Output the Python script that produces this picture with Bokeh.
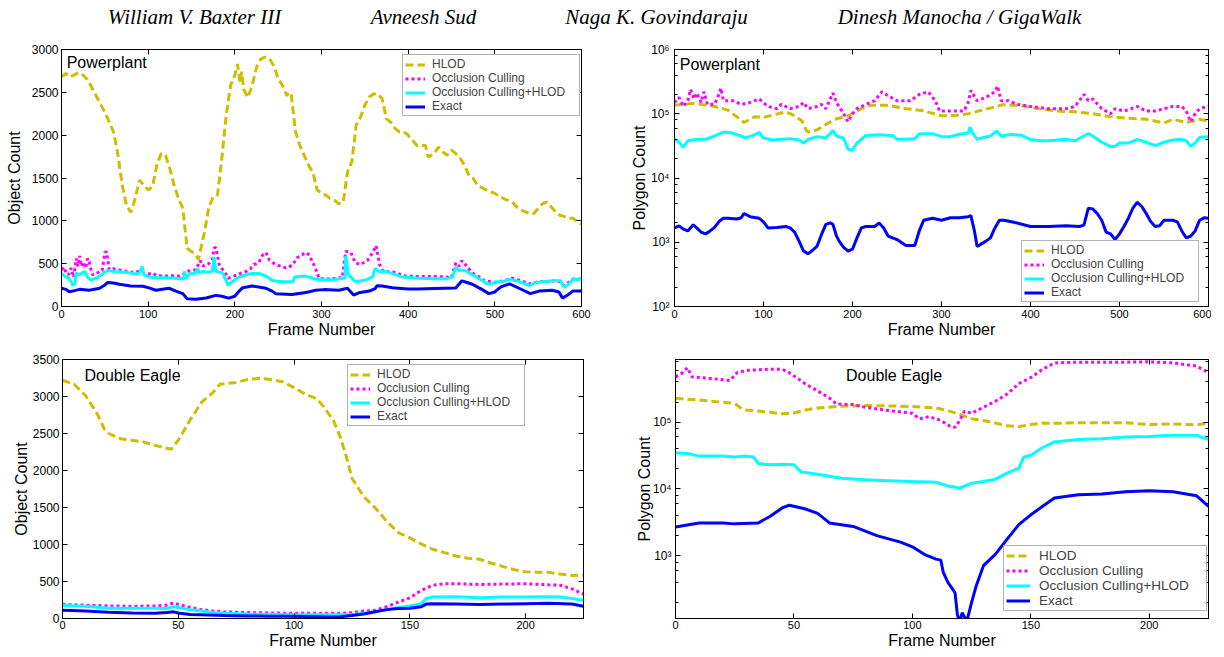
from bokeh.plotting import figure
from bokeh.models import (Label, LinearAxis, LogAxis, FixedTicker, LogTicker,
                          CustomJSTickFormatter, Range1d, Spacer)
from bokeh.layouts import column, row
from bokeh.embed import file_html
from bokeh.resources import INLINE
from bokeh.core.properties import value

# ---------------- data ----------------
AUTHORS = ["William V. Baxter III", "Avneesh Sud", "Naga K. Govindaraju",
           "Dinesh Manocha / GigaWalk"]
SERIES = ["HLOD", "Occlusion Culling", "Occlusion Culling+HLOD", "Exact"]
PP_XTICKS = [0, 100, 200, 300, 400, 500, 600]
DE_XTICKS = [0, 50, 100, 150, 200]
PP_OBJ_YTICKS = [0, 500, 1000, 1500, 2000, 2500, 3000]
DE_OBJ_YTICKS = [0, 500, 1000, 1500, 2000, 2500, 3000, 3500]

# Powerplant - object count
PP_OBJ_HLOD = [(0,2680),(5,2720),(10,2680),(20,2730),(25,2700),(30,2650),(40,2460),(50,2270),
    (60,2040),(65,1780),(70,1420),(75,1180),(80,1100),(85,1260),(90,1475),(95,1415),(100,1360),
    (105,1400),(110,1650),(115,1785),(120,1765),(125,1610),(130,1415),(135,1260),(140,1145),
    (145,680),(150,640),(155,600),(158,550),(160,640),(165,870),(170,1160),(175,1280),(180,1300),
    (185,1730),(190,2230),(195,2580),(200,2700),(203,2830),(206,2620),(208,2740),(210,2540),
    (215,2440),(220,2580),(225,2790),(230,2890),(235,2910),(240,2890),(245,2810),(250,2660),
    (255,2580),(260,2460),(262,2500),(265,2480),(270,2040),(275,1880),(280,1765),(285,1650),
    (290,1570),(295,1360),(300,1320),(305,1300),(310,1260),(315,1240),(320,1200),(325,1215),
    (330,1570),(335,1690),(340,2115),(345,2210),(350,2350),(355,2445),(360,2480),(365,2480),
    (370,2425),(375,2190),(380,2150),(385,2075),(390,2040),(395,2040),(400,2000),(405,1940),
    (410,1880),(415,1880),(420,1880),(423,1745),(430,1785),(435,1860),(440,1805),(445,1765),
    (450,1825),(455,1785),(460,1730),(465,1650),(470,1530),(475,1495),(480,1415),(490,1360),
    (500,1320),(510,1260),(520,1220),(525,1165),(530,1125),(540,1085),(545,1085),(550,1145),
    (555,1200),(560,1220),(565,1165),(570,1105),(575,1065),(580,1050),(585,1030),(590,1030),
    (595,990),(600,960)]
PP_OBJ_OCC = [(0,430),(3,460),(5,400),(8,370),(11,450),(14,340),(17,560),(19,470),(21,590),
    (23,470),(25,520),(28,450),(30,560),(32,520),(34,430),(36,370),(40,380),(44,410),(47,420),
    (50,630),(52,640),(55,430),(60,440),(70,420),(80,400),(90,410),(95,390),(100,380),(105,390),
    (110,360),(120,355),(130,360),(136,355),(140,370),(144,410),(150,420),(155,430),(160,535),
    (163,470),(166,490),(170,500),(174,540),(176,680),(178,690),(182,490),(186,430),(188,410),
    (192,330),(197,345),(205,380),(213,410),(218,440),(222,490),(225,500),(228,520),(232,600),
    (236,630),(240,540),(244,510),(250,480),(259,450),(264,470),(267,490),(272,570),(277,600),
    (282,630),(286,600),(290,510),(293,450),(295,390),(297,330),(303,320),(310,320),(318,330),
    (324,335),(328,645),(334,630),(339,510),(345,490),(350,520),(353,535),(359,630),(363,710),
    (367,490),(371,410),(382,405),(397,355),(412,350),(430,350),(443,345),(450,340),(455,510),
    (459,470),(462,535),(466,490),(474,390),(480,360),(486,310),(490,300),(500,280),(510,300),
    (520,330),(530,300),(540,265),(550,290),(560,290),(570,300),(575,290),(580,240),(585,280),
    (590,320),(600,320)]
PP_OBJ_OCCH = [(0,380),(2,370),(5,345),(9,330),(13,250),(15,260),(17,390),(21,370),(25,400),
    (27,410),(30,340),(34,310),(40,330),(44,355),(50,400),(53,420),(60,410),(74,400),(86,380),
    (90,390),(93,470),(95,370),(101,345),(110,335),(120,335),(132,330),(141,320),(142,410),
    (144,330),(148,380),(155,390),(157,445),(159,390),(163,410),(170,400),(174,410),(176,580),
    (178,410),(182,400),(186,390),(190,300),(192,250),(197,290),(205,345),(213,370),(220,385),
    (228,385),(236,355),(244,300),(255,290),(267,290),(269,345),(282,355),(293,320),(303,310),
    (315,315),(324,330),(327,330),(328,590),(331,370),(339,290),(351,310),(359,345),(362,445),
    (366,410),(374,410),(393,345),(412,330),(430,325),(443,320),(451,345),(455,460),(458,420),
    (462,425),(468,410),(474,370),(486,300),(490,270),(495,260),(501,290),(510,290),(517,320),
    (528,290),(540,245),(547,280),(556,290),(567,300),(576,300),(580,220),(586,270),(590,315),
    (600,315)]
PP_OBJ_EXACT = [(0,213),(5,200),(9,173),(15,185),(21,200),(32,190),(44,213),(50,250),(53,280),
    (60,275),(67,260),(80,240),(94,236),(100,220),(109,190),(124,213),(132,180),(140,150),
    (145,90),(155,85),(167,100),(178,130),(185,120),(193,98),(200,120),(205,180),(209,220),
    (220,240),(236,213),(243,180),(247,150),(266,140),(280,160),(286,173),(293,190),(303,197),
    (320,190),(330,213),(337,134),(343,160),(355,180),(362,210),(364,243),(370,240),(382,220),
    (400,205),(412,205),(430,210),(443,213),(455,215),(462,300),(468,280),(474,260),(485,200),
    (493,150),(500,170),(507,230),(517,265),(528,213),(541,150),(551,180),(566,190),(574,170),
    (578,98),(584,134),(590,180),(600,180)]

# Powerplant - polygon count
PP_POLY_HLOD = [(0,1.36e5),(10,1.4e5),(20,1.45e5),(30,1.4e5),(40,1.33e5),(50,1.25e5),
    (60,1.14e5),(65,1.0e5),(70,9.0e4),(78,7.3e4),(85,8.2e4),(90,9.0e4),(100,8.8e4),(110,9.5e4),
    (125,1.07e5),(135,9.3e4),(142,8.0e4),(145,7.1e4),(148,5.5e4),(150,5.2e4),(160,5.6e4),
    (170,6.8e4),(180,8.2e4),(195,9.3e4),(210,1.2e5),(220,1.36e5),(240,1.36e5),(260,1.2e5),
    (280,1.11e5),(300,9.3e4),(320,9.5e4),(330,1.0e5),(350,1.18e5),(370,1.39e5),(390,1.33e5),
    (410,1.2e5),(430,1.1e5),(450,1.07e5),(470,1.0e5),(490,9.0e4),(510,8.5e4),(530,8.2e4),
    (550,7.2e4),(560,8.2e4),(575,7.3e4),(590,8.2e4),(600,7.7e4)]
PP_POLY_OCC = [(0,1.5e5),(5,1.8e5),(10,1.3e5),(15,1.6e5),(18,2.4e5),(22,1.7e5),(25,2.1e5),
    (30,1.5e5),(33,2.2e5),(37,1.4e5),(45,1.4e5),(50,2.0e5),(52,2.5e5),(55,1.6e5),(65,1.6e5),
    (75,1.4e5),(85,1.5e5),(95,1.7e5),(105,1.3e5),(115,1.2e5),(120,1.4e5),(130,1.2e5),
    (140,1.3e5),(145,1.5e5),(150,1.2e5),(160,1.3e5),(165,1.4e5),(170,1.2e5),(178,2.1e5),
    (182,1.5e5),(190,1.0e5),(195,7.5e4),(200,1.0e5),(205,1.2e5),(215,1.4e5),(225,1.6e5),
    (233,2.2e5),(240,1.9e5),(250,1.6e5),(265,1.6e5),(275,2.0e5),(285,2.2e5),(293,1.6e5),
    (298,1.1e5),(310,1.1e5),(325,1.1e5),(330,1.5e5),(333,2.3e5),(340,1.6e5),(350,1.8e5),
    (360,2.2e5),(363,2.7e5),(367,1.6e5),(375,1.6e5),(385,1.4e5),(400,1.3e5),(420,1.2e5),
    (440,1.2e5),(450,1.3e5),(460,2.0e5),(465,1.6e5),(470,1.7e5),(480,1.2e5),(490,1.0e5),
    (495,1.2e5),(505,1.1e5),(520,1.3e5),(530,1.1e5),(540,1.1e5),(550,1.2e5),(560,1.3e5),
    (570,1.3e5),(575,1.1e5),(580,7.5e4),(585,1.0e5),(590,1.2e5),(600,1.3e5)]
PP_POLY_OCCH = [(0,4.0e4),(5,3.6e4),(10,3.0e4),(15,3.8e4),(25,4.0e4),(35,4.0e4),(45,4.5e4),
    (55,5.2e4),(65,5.0e4),(75,4.5e4),(80,4.2e4),(90,4.7e4),(95,5.1e4),(100,4.2e4),(110,3.9e4),
    (120,4.0e4),(130,4.1e4),(140,3.9e4),(145,3.5e4),(150,4.0e4),(160,4.4e4),(170,4.2e4),
    (178,5.5e4),(182,4.5e4),(190,4.2e4),(195,2.8e4),(200,2.7e4),(205,3.5e4),(210,4.0e4),
    (215,4.6e4),(230,4.7e4),(245,4.6e4),(250,4.0e4),(260,4.0e4),(270,4.1e4),(275,4.9e4),
    (290,4.9e4),(300,4.4e4),(310,4.4e4),(320,4.8e4),(330,5.0e4),(332,6.2e4),(335,5.0e4),
    (340,4.0e4),(345,4.2e4),(355,4.5e4),(362,5.4e4),(367,4.5e4),(380,4.8e4),(390,4.6e4),
    (400,4.0e4),(410,3.8e4),(420,3.8e4),(440,4.0e4),(450,3.8e4),(460,4.5e4),(465,4.9e4),
    (470,4.5e4),(480,3.6e4),(490,3.1e4),(495,3.1e4),(500,3.5e4),(510,3.5e4),(520,4.0e4),
    (530,3.6e4),(540,3.2e4),(550,3.6e4),(560,3.9e4),(570,4.0e4),(575,3.8e4),(580,3.1e4),
    (585,3.5e4),(590,4.3e4),(600,4.4e4)]
PP_POLY_EXACT = [(0,1670),(5,1800),(10,1600),(15,1500),(21,1870),(25,1670),(30,1430),
    (35,1350),(40,1500),(45,1700),(50,2100),(55,2370),(60,2370),(70,2300),(75,2400),(78,2800),
    (85,2500),(95,2370),(100,2070),(105,1670),(115,1700),(125,1760),(130,1670),(135,1430),
    (140,1040),(145,730),(150,660),(155,750),(160,860),(165,1300),(170,1900),(175,2000),
    (178,1900),(182,1250),(185,1040),(190,830),(195,730),(200,780),(205,1170),(210,1670),
    (215,1760),(225,1760),(230,2000),(235,1670),(240,1250),(250,1100),(260,890),(270,890),
    (275,1500),(280,2200),(290,2370),(300,2200),(310,2400),(320,2400),(330,2500),(333,2600),
    (337,1500),(340,860),(350,1040),(355,1170),(360,1670),(365,2200),(370,2200),(380,2070),
    (400,1760),(420,1760),(440,1800),(455,1760),(460,1850),(465,3400),(470,3300),(475,2800),
    (480,2200),(485,1430),(490,1350),(495,1100),(500,1350),(505,1760),(510,2370),(515,3400),
    (520,4200),(525,3600),(530,2800),(535,2100),(540,1760),(545,1800),(550,2200),(560,2200),
    (565,2070),(570,1500),(575,1170),(580,1250),(585,1500),(590,2200),(595,2400),(600,2370)]

# Double Eagle - object count
DE_OBJ_HLOD = [(0,3220),(5,3165),(10,3010),(15,2765),(18,2565),(20,2500),(25,2430),(30,2410),
    (35,2385),(40,2340),(45,2300),(47,2290),(50,2410),(55,2675),(60,2920),(65,3055),(68,3165),
    (75,3190),(80,3230),(85,3245),(90,3230),(95,3200),(100,3120),(105,3030),(110,2965),
    (113,2855),(117,2675),(120,2450),(123,2140),(125,1895),(130,1650),(135,1495),(140,1315),
    (145,1160),(150,1090),(155,1005),(160,935),(165,890),(170,845),(175,815),(180,800),
    (185,750),(190,705),(195,660),(200,633),(205,625),(210,625),(215,600),(220,580),(225,590)]
DE_OBJ_OCC = [(0,190),(10,180),(20,170),(30,165),(40,170),(45,180),(48,210),(50,190),(55,150),
    (60,120),(65,100),(70,90),(80,80),(90,75),(100,70),(110,70),(120,70),(125,80),(130,100),
    (135,110),(140,160),(145,220),(150,280),(155,380),(160,450),(165,470),(170,470),(180,460),
    (190,465),(200,470),(210,455),(215,450),(220,400),(225,330)]
DE_OBJ_OCCH = [(0,175),(10,165),(20,140),(30,140),(40,140),(45,135),(48,160),(50,150),(55,120),
    (60,100),(65,80),(70,70),(80,60),(90,55),(100,50),(110,50),(120,50),(125,55),(130,70),
    (135,90),(140,120),(145,150),(150,170),(155,200),(157,270),(160,290),(170,295),(180,280),
    (190,290),(200,290),(210,295),(215,290),(220,270),(225,245)]
DE_OBJ_EXACT = [(0,110),(10,100),(20,85),(30,75),(40,70),(45,80),(48,90),(50,75),(55,55),
    (60,50),(70,40),(80,35),(90,30),(100,30),(110,25),(115,20),(120,25),(125,40),(130,60),
    (135,90),(140,120),(145,135),(150,140),(155,160),(157,195),(160,200),(170,195),(180,190),
    (190,195),(200,200),(210,205),(220,195),(225,165)]

# Double Eagle - polygon count
DE_POLY_HLOD = [(0,2.27e5),(10,2.14e5),(20,1.98e5),(25,1.91e5),(28,1.58e5),(30,1.52e5),
    (40,1.41e5),(45,1.33e5),(50,1.37e5),(55,1.52e5),(60,1.63e5),(70,1.73e5),(80,1.77e5),
    (90,1.75e5),(100,1.71e5),(110,1.63e5),(115,1.49e5),(120,1.3e5),(125,1.12e5),(130,1.06e5),
    (135,9.7e4),(140,8.8e4),(145,8.6e4),(150,9.2e4),(155,9.7e4),(160,9.6e4),(170,9.8e4),
    (180,9.8e4),(190,9.8e4),(200,9.2e4),(210,9.4e4),(220,9.1e4),(225,9.7e4)]
DE_POLY_OCC = [(0,4.75e5),(3,5.5e5),(5,6.5e5),(7,4.75e5),(15,4.5e5),(23,4.2e5),(26,5.5e5),
    (30,5.96e5),(40,6.2e5),(45,6.2e5),(48,5.5e5),(52,4.4e5),(55,3.7e5),(60,2.94e5),(65,2.29e5),
    (68,1.87e5),(75,1.83e5),(80,1.67e5),(90,1.49e5),(100,1.36e5),(103,1.12e5),(107,1.21e5),
    (112,1.06e5),(116,8.6e4),(118,8.4e4),(120,1.06e5),(122,1.46e5),(125,1.36e5),(130,1.67e5),
    (135,2.05e5),(140,2.63e5),(145,3.78e5),(150,4.65e5),(155,6.2e5),(160,7.7e5),(170,7.9e5),
    (180,7.9e5),(190,7.9e5),(200,8.0e5),(210,7.7e5),(220,6.9e5),(225,5.5e5)]
DE_POLY_OCCH = [(0,3.47e4),(5,3.4e4),(10,3.1e4),(20,3.1e4),(25,3.0e4),(30,3.1e4),(33,3.0e4),
    (35,2.4e4),(40,2.3e4),(45,2.35e4),(50,2.3e4),(53,1.8e4),(60,1.66e4),(70,1.45e4),
    (80,1.37e4),(90,1.33e4),(100,1.29e4),(110,1.26e4),(115,1.11e4),(120,1.03e4),(125,1.22e4),
    (130,1.29e4),(135,1.4e4),(140,1.72e4),(145,2.04e4),(147,3.0e4),(150,3.2e4),(155,4.17e4),
    (160,5.05e4),(170,5.5e4),(180,5.66e4),(190,6.0e4),(200,6.1e4),(210,6.35e4),(220,6.35e4),
    (225,5.5e4)]
DE_POLY_EXACT = [(0,2700),(10,3100),(20,3100),(25,3000),(35,3100),(40,3900),(45,5200),
    (48,5700),(55,5000),(60,4300),(65,3100),(75,2750),(85,2000),(95,1600),(100,1360),
    (105,1050),(110,890),(112,860),(113,570),(115,400),(118,280),(119,130),(120,105),(121,140),
    (123,105),(125,200),(127,360),(130,710),(135,1050),(140,1770),(145,2950),(150,4100),
    (155,5500),(160,7300),(170,8200),(180,8400),(190,9100),(200,9400),(210,9100),(220,7900),
    (225,5500)]

# ---------------- style ----------------
FONT = "Liberation Sans"
COLORS = ["#cbbf00", "#ff00ff", "#00ffff", "#0000ff"]
DASHES = ["8 4", "3 3", "solid", "solid"]

LOG_FMT_CODE = """
const sup = {'0':'\u2070','1':'\u00b9','2':'\u00b2','3':'\u00b3','4':'\u2074','5':'\u2075',
             '6':'\u2076','7':'\u2077','8':'\u2078','9':'\u2079','-':'\u207b'};
const e = Math.round(Math.log10(tick));
return '10' + String(e).split('').map(c => sup[c]).join('');
"""
BLANK_FMT_CODE = "return ' ';"


def make_panel(series, *, frame_w, frame_h, x_end, y_lo, y_hi, log, xticks, yticks,
               ylabel, borders, ylabel_standoff, ytick_standoff, xtick_standoff,
               title, title_xy, legend_loc, legend_font, legend_row, glyph_w,
               label_standoff, label_w):
    bl, br, bt, bb = borders
    kw = dict(frame_width=frame_w, frame_height=frame_h,
              x_range=Range1d(0, x_end), y_range=Range1d(y_lo, y_hi),
              toolbar_location=None, output_backend="svg",
              min_border_left=bl, min_border_right=br, min_border_top=bt,
              min_border_bottom=bb, background_fill_color="white",
              border_fill_color="white", outline_line_color="black",
              outline_line_width=1)
    if log:
        kw["y_axis_type"] = "log"
    p = figure(**kw)
    p.grid.visible = False

    for name, pairs, color, dash in zip(SERIES, series, COLORS, DASHES):
        xs = [a for a, _ in pairs]
        ys = [b for _, b in pairs]
        p.line(xs, ys, line_color=color, line_width=3, line_dash=dash,
               legend_label=name)

    p.xaxis[0].ticker = FixedTicker(ticks=xticks)
    p.xaxis[0].axis_label = "Frame Number"
    p.xaxis[0].major_label_standoff = xtick_standoff
    p.yaxis[0].axis_label = ylabel
    p.yaxis[0].major_label_standoff = ytick_standoff
    p.yaxis[0].axis_label_standoff = ylabel_standoff
    p.xaxis[0].axis_label_standoff = 0
    if log:
        p.yaxis[0].ticker = LogTicker()
        p.yaxis[0].formatter = CustomJSTickFormatter(code=LOG_FMT_CODE)
        rax = LogAxis(ticker=LogTicker())
    else:
        p.yaxis[0].ticker = FixedTicker(ticks=yticks)
        rax = LinearAxis(ticker=FixedTicker(ticks=yticks))
    tax = LinearAxis(ticker=FixedTicker(ticks=xticks))
    for ax in (rax, tax):
        ax.formatter = CustomJSTickFormatter(code=BLANK_FMT_CODE)
        ax.major_label_text_font_size = "1px"
        ax.major_label_standoff = 0
    p.add_layout(rax, "right")
    p.add_layout(tax, "above")

    for ax in p.axis:
        ax.major_tick_in = 5
        ax.major_tick_out = 0
        ax.minor_tick_in = 3
        ax.minor_tick_out = 0
        ax.axis_line_color = "black"
        ax.major_tick_line_color = "black"
        ax.minor_tick_line_color = "black"
        ax.major_label_text_font = FONT
        ax.major_label_text_color = "black"
        ax.axis_label_text_font = FONT
        ax.axis_label_text_font_style = "normal"
        ax.axis_label_text_font_size = "16px"
        ax.axis_label_text_color = "black"
    for ax in (p.xaxis[0], p.yaxis[0]):
        ax.major_label_text_font_size = "12px"
    for ax in (p.xaxis[0], tax):
        ax.minor_tick_line_color = None
    if not log:
        p.yaxis[0].minor_tick_line_color = None
        rax.minor_tick_line_color = None

    p.add_layout(Label(x=title_xy[0], y=title_xy[1], text=title,
                       text_font=FONT, text_font_size="16px",
                       text_baseline="middle", text_align="left",
                       text_color="black"))

    lg = p.legend[0]
    lg.location = legend_loc
    lg.label_text_font = FONT
    lg.label_text_font_size = legend_font
    lg.label_height = legend_row
    lg.glyph_height = legend_row
    lg.glyph_width = glyph_w
    lg.label_standoff = label_standoff
    lg.label_width = label_w
    lg.spacing = 0
    lg.padding = 2
    lg.margin = 0
    lg.border_line_color = "#666666"
    lg.border_line_width = 1
    lg.background_fill_color = "white"
    lg.background_fill_alpha = 1.0
    return p


# ---------------- header ----------------
HEADER_W = 1206
header = figure(width=HEADER_W, height=32, x_range=Range1d(0, HEADER_W),
                y_range=Range1d(0, 32), x_axis_type=None, y_axis_type=None,
                toolbar_location=None, output_backend="svg", min_border=0,
                outline_line_color=None)
header.text(x=[194, 423, 656, 959], y=[16, 16, 16, 16], text=AUTHORS,
            text_font=value("Liberation Serif"), text_font_style="italic",
            text_font_size="21px", text_align="center", text_baseline="middle",
            text_color="black")

p1 = make_panel([PP_OBJ_HLOD, PP_OBJ_OCC, PP_OBJ_OCCH, PP_OBJ_EXACT],
                frame_w=520, frame_h=257, x_end=600, y_lo=0, y_hi=3000, log=False,
                xticks=PP_XTICKS, yticks=PP_OBJ_YTICKS, ylabel="Object Count",
                borders=(54, 33, 8, 34), ylabel_standoff=6, ytick_standoff=3,
                xtick_standoff=3, title="Powerplant", title_xy=(6, 2850),
                legend_loc=(341, 257 - 5 - 62), legend_font="12px", legend_row=13,
                glyph_w=20, label_standoff=7, label_w=145)
p2 = make_panel([PP_POLY_HLOD, PP_POLY_OCC, PP_POLY_OCCH, PP_POLY_EXACT],
                frame_w=534, frame_h=257, x_end=600, y_lo=1e2, y_hi=1e6, log=True,
                xticks=PP_XTICKS, yticks=None, ylabel="Polygon Count",
                borders=(60, 3, 8, 34), ylabel_standoff=0, ytick_standoff=5,
                xtick_standoff=3, title="Powerplant", title_xy=(6, 5.85e5),
                legend_loc=(347, 4), legend_font="12px", legend_row=13,
                glyph_w=20, label_standoff=7, label_w=145)
p3 = make_panel([DE_OBJ_HLOD, DE_OBJ_OCC, DE_OBJ_OCCH, DE_OBJ_EXACT],
                frame_w=521, frame_h=259, x_end=225, y_lo=0, y_hi=3500, log=False,
                xticks=DE_XTICKS, yticks=DE_OBJ_YTICKS, ylabel="Object Count",
                borders=(53, 32, 19, 32), ylabel_standoff=0, ytick_standoff=3,
                xtick_standoff=2, title="Double Eagle", title_xy=(9.5, 3290),
                legend_loc=(285, 259 - 5 - 62), legend_font="12px", legend_row=13,
                glyph_w=20, label_standoff=7, label_w=145)
p4 = make_panel([DE_POLY_HLOD, DE_POLY_OCC, DE_POLY_OCCH, DE_POLY_EXACT],
                frame_w=533, frame_h=259, x_end=225, y_lo=115, y_hi=866000, log=True,
                xticks=DE_XTICKS, yticks=None, ylabel="Polygon Count",
                borders=(60, 2, 19, 32), ylabel_standoff=-3, ytick_standoff=4,
                xtick_standoff=2, title="Double Eagle", title_xy=(72, 4.97e5),
                legend_loc=(328, 7), legend_font="13.5px", legend_row=15,
                glyph_w=24, label_standoff=9, label_w=165)

layout = column(header,
                row(Spacer(width=2, height=10), p1, p2),
                row(Spacer(width=9, height=10), p3, p4))
open("out.html", "w").write(file_html(layout, INLINE))
